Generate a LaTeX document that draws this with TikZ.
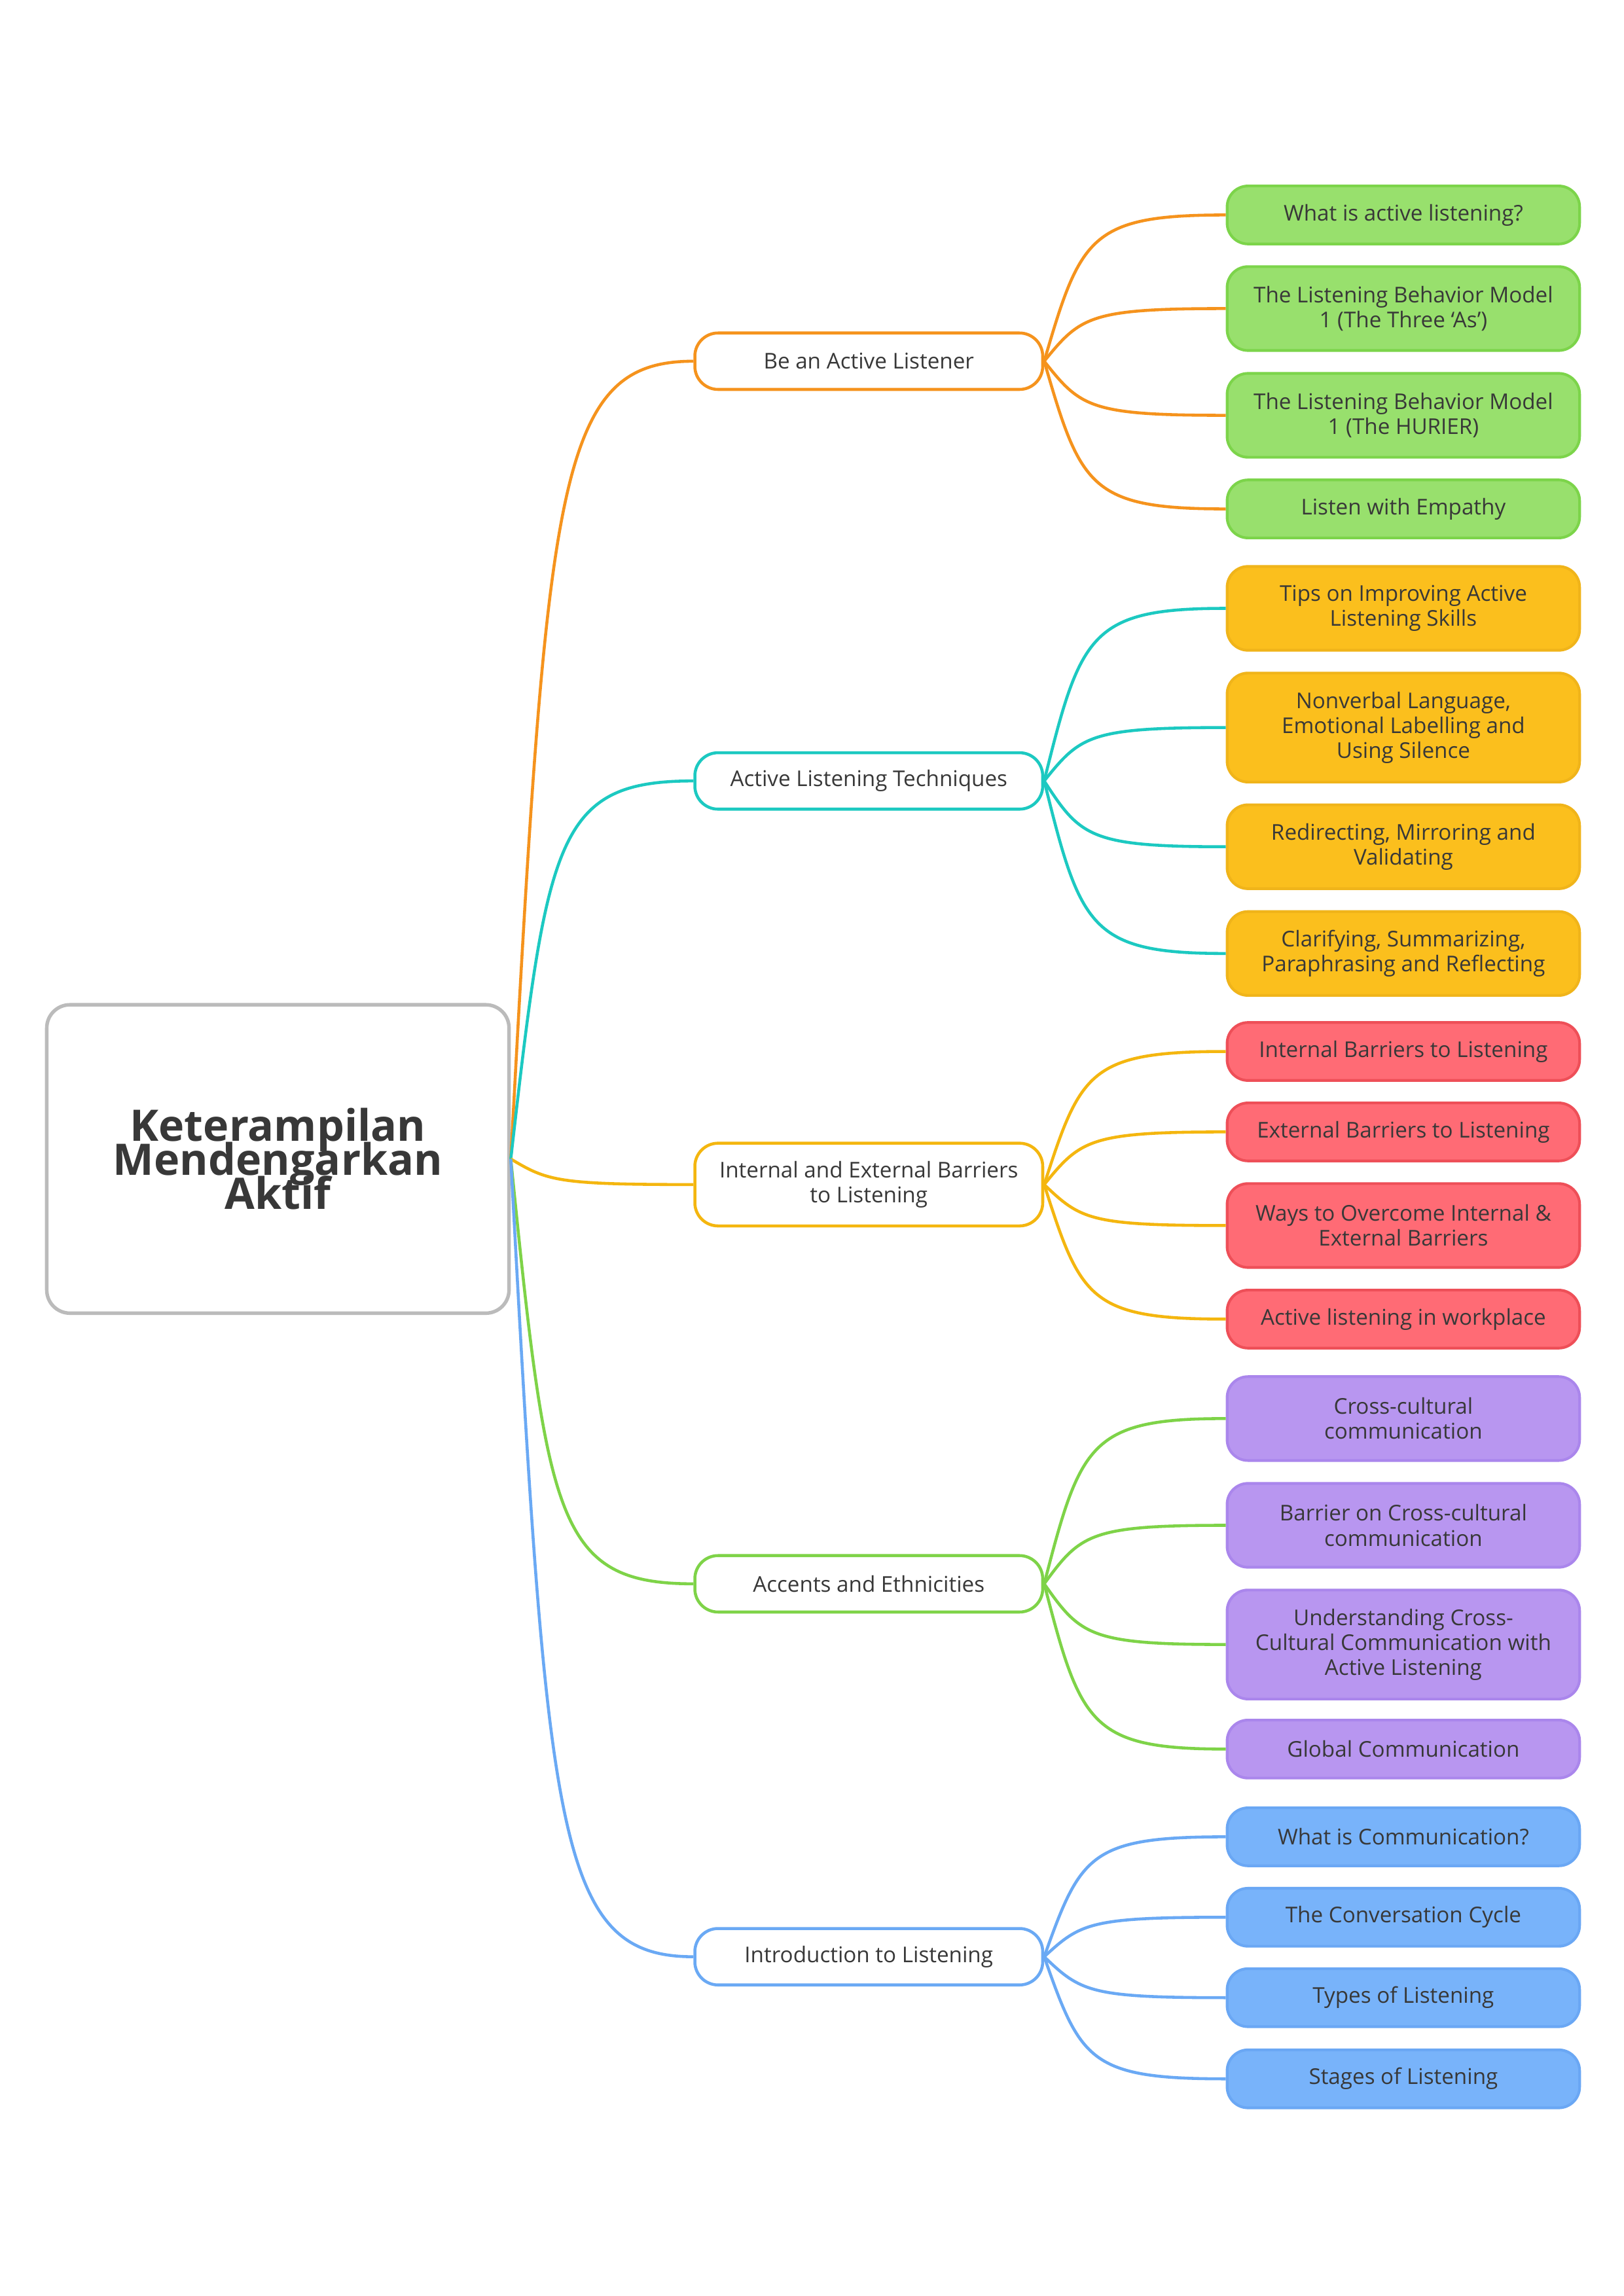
\documentclass[tikz,border=0pt]{standalone}
\usepackage{fontspec}
\setmainfont{Open Sans}
\usetikzlibrary{calc}
\definecolor{txt}{HTML}{383838}
\definecolor{cOr}{HTML}{F5931D}
\definecolor{cTe}{HTML}{1CC9C1}
\definecolor{cYe}{HTML}{F4B60F}
\definecolor{cGr}{HTML}{7ED348}
\definecolor{cBl}{HTML}{6AA9F4}
\definecolor{fGr}{HTML}{98E06D}
\definecolor{bGr}{HTML}{7CD44A}
\definecolor{fAm}{HTML}{FBBF1D}
\definecolor{bAm}{HTML}{F0B41A}
\definecolor{fRe}{HTML}{FF6B75}
\definecolor{bRe}{HTML}{EE4F58}
\definecolor{fPu}{HTML}{B896F0}
\definecolor{bPu}{HTML}{AA86EC}
\definecolor{fBl}{HTML}{78B3FA}
\definecolor{bBl}{HTML}{6AA7F4}
\definecolor{cCe}{HTML}{BBBBBB}
\newcommand\mmtitlefont{\fontsize{16}{12.5}\selectfont\bfseries\lineskiplimit=-50pt\relax}
\newcommand\mmlink[3]{\draw[#1] let \p1=(#2.east), \p2=(#3.west) in (\p1) .. controls ({\x1+0.2*(\x2-\x1)},{\y1+0.85*(\y2-\y1)}) and ({\x1+0.25*(\x2-\x1)},{\y2}) .. (\p2);}
\begin{document}
\begin{tikzpicture}[x=0.018919cm,y=-0.018919cm,
  txtfont/.style={font=\fontsize{8}{9.2}\selectfont},
  leaf/.style={draw, line width=1pt, rounded corners=0.27cm, minimum width=4.56cm, minimum height=0.75cm, inner sep=0pt, align=center, txtfont, text=txt},
  leaftwo/.style={leaf, minimum height=1.085cm},
  leafthree/.style={leaf, minimum height=1.41cm},
  lgr/.style={fill=fGr, draw=bGr},
  lam/.style={fill=fAm, draw=bAm},
  lre/.style={fill=fRe, draw=bRe},
  lpu/.style={fill=fPu, draw=bPu},
  lbl/.style={fill=fBl, draw=bBl},
  branch/.style={draw, fill=white, line width=1.1pt, rounded corners=0.3cm, minimum width=4.5cm, minimum height=0.73cm, inner sep=0pt, align=center, txtfont, text=txt},
  branchtwo/.style={branch, minimum height=1.07cm},
  conn/.style={line width=1.1pt}
]
\useasboundingbox (0,0) rectangle (1110,1570);
\fill[white] (0,0) rectangle (1110,1570);

% central
\node[draw=cCe, fill=white, line width=1.3pt, rounded corners=0.3cm, minimum width=5.98cm, minimum height=3.99cm, align=center, text=txt, font=\mmtitlefont] (root) at (190,792.5) {Keterampilan\\Mendengarkan\\Aktif};

% branches
\node[branch, draw=cOr] (b1) at (594,247) {Be an Active Listener};
\node[branch, draw=cTe] (b2) at (594,534) {Active Listening Techniques};
\node[branchtwo, draw=cYe] (b3) at (594,810) {Internal and External Barriers\\to Listening};
\node[branch, draw=cGr] (b4) at (594,1083) {Accents and Ethnicities};
\node[branch, draw=cBl] (b5) at (594,1338) {Introduction to Listening};

% leaves group 1
\node[leaf, lgr] (l11) at (959.5,147) {What is active listening?};
\node[leaftwo, lgr] (l12) at (959.5,211) {The Listening Behavior Model\\1 (The Three ‘As’)};
\node[leaftwo, lgr] (l13) at (959.5,284) {The Listening Behavior Model\\1 (The HURIER)};
\node[leaf, lgr] (l14) at (959.5,348) {Listen with Empathy};
% group 2
\node[leaftwo, lam] (l21) at (959.5,416) {Tips on Improving Active\\Listening Skills};
\node[leafthree, lam] (l22) at (959.5,497.5) {Nonverbal Language,\\Emotional Labelling and\\Using Silence};
\node[leaftwo, lam] (l23) at (959.5,579) {Redirecting, Mirroring and\\Validating};
\node[leaftwo, lam] (l24) at (959.5,652) {Clarifying, Summarizing,\\Paraphrasing and Reflecting};
% group 3
\node[leaf, lre] (l31) at (959.5,719) {Internal Barriers to Listening};
\node[leaf, lre] (l32) at (959.5,774) {External Barriers to Listening};
\node[leaftwo, lre] (l33) at (959.5,838) {Ways to Overcome Internal \&\\External Barriers};
\node[leaf, lre] (l34) at (959.5,902) {Active listening in workplace};
% group 4
\node[leaftwo, lpu] (l41) at (959.5,970) {Cross-cultural\\communication};
\node[leaftwo, lpu] (l42) at (959.5,1043) {Barrier on Cross-cultural\\communication};
\node[leafthree, lpu] (l43) at (959.5,1124.5) {Understanding Cross-\\Cultural Communication with\\Active Listening};
\node[leaf, lpu] (l44) at (959.5,1196) {Global Communication};
% group 5
\node[leaf, lbl] (l51) at (959.5,1256) {What is Communication?};
\node[leaf, lbl] (l52) at (959.5,1311) {The Conversation Cycle};
\node[leaf, lbl] (l53) at (959.5,1366) {Types of Listening};
\node[leaf, lbl] (l54) at (959.5,1421.5) {Stages of Listening};

% connectors root -> branches
\mmlink{conn, cOr}{root}{b1}
\mmlink{conn, cTe}{root}{b2}
\mmlink{conn, cYe}{root}{b3}
\mmlink{conn, cGr}{root}{b4}
\mmlink{conn, cBl}{root}{b5}
% branches -> leaves
\mmlink{conn, cOr}{b1}{l11}
\mmlink{conn, cOr}{b1}{l12}
\mmlink{conn, cOr}{b1}{l13}
\mmlink{conn, cOr}{b1}{l14}
\mmlink{conn, cTe}{b2}{l21}
\mmlink{conn, cTe}{b2}{l22}
\mmlink{conn, cTe}{b2}{l23}
\mmlink{conn, cTe}{b2}{l24}
\mmlink{conn, cYe}{b3}{l31}
\mmlink{conn, cYe}{b3}{l32}
\mmlink{conn, cYe}{b3}{l33}
\mmlink{conn, cYe}{b3}{l34}
\mmlink{conn, cGr}{b4}{l41}
\mmlink{conn, cGr}{b4}{l42}
\mmlink{conn, cGr}{b4}{l43}
\mmlink{conn, cGr}{b4}{l44}
\mmlink{conn, cBl}{b5}{l51}
\mmlink{conn, cBl}{b5}{l52}
\mmlink{conn, cBl}{b5}{l53}
\mmlink{conn, cBl}{b5}{l54}
\end{tikzpicture}
\end{document}
